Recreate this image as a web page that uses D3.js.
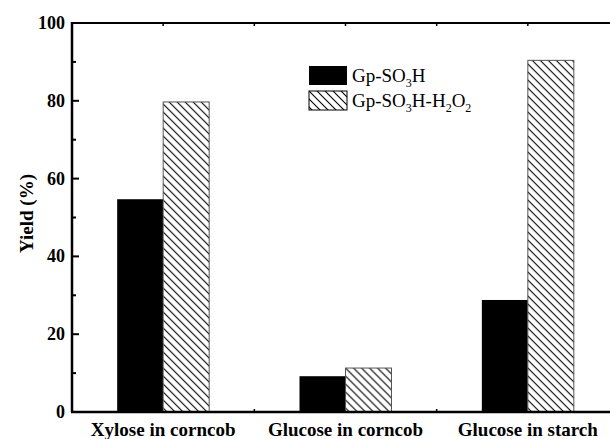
<!DOCTYPE html>
<html>
<head>
    <style>
        body { margin: 0; background: white; }
        text { font-family: "Liberation Serif", "Times New Roman", serif; }
    </style>
</head>
<body>
    <svg width="610" height="439"></svg>
    <script src="https://d3js.org/d3.v7.min.js"></script>
    <script>
        const categories = ["Xylose in corncob", "Glucose in corncob", "Glucose in starch"];
        const seriesNames = ["Gp-SO3H", "Gp-SO3H-H2O2"];
        const plain = [54.7, 9.2, 28.8];
        const peroxide = [79.7, 11.3, 90.4];
        const yTicks = [0, 20, 40, 60, 80, 100];

        const svg = d3.select("svg");
        const mLeft = 72, mRight = 619, mTop = 23, mBottom = 412;

        const defs = svg.append("defs");
        const pat = defs.append("pattern")
            .attr("id", "hatch")
            .attr("patternUnits", "userSpaceOnUse")
            .attr("width", 8).attr("height", 8);
        pat.append("rect").attr("width", 8).attr("height", 8).attr("fill", "white");
        pat.append("path")
            .attr("d", "M-2,-2 L10,10 M-2,6 L2,10 M6,-2 L10,2")
            .attr("stroke", "black").attr("stroke-width", 1.1);

        const x = d3.scaleBand().domain(categories).range([mLeft, mRight]);
        const xSub = d3.scaleBand().domain(seriesNames).range([-46, 46]);
        const y = d3.scaleLinear().domain([0, 100]).range([mBottom, mTop]);

        const rows = categories.map((c, i) => ({ cat: c, vals: [plain[i], peroxide[i]] }));

        const groups = svg.selectAll(".grp")
            .data(rows)
            .enter().append("g")
            .attr("transform", d => `translate(${x(d.cat) + x.bandwidth() / 2},0)`);

        groups.selectAll("rect")
            .data(d => d.vals.map((v, j) => ({ name: seriesNames[j], v })))
            .enter().append("rect")
            .attr("x", d => xSub(d.name))
            .attr("width", xSub.bandwidth())
            .attr("y", d => y(d.v))
            .attr("height", d => mBottom - y(d.v))
            .attr("fill", (d, j) => j === 0 ? "black" : "url(#hatch)")
            .attr("stroke", (d, j) => j === 0 ? "none" : "#555")
            .attr("stroke-width", 1);

        // y axis, ticks pointing inward
        const yg = svg.append("g").attr("transform", `translate(${mLeft},0)`);
        yg.selectAll(".yt")
            .data(d3.range(0, 101, 10))
            .enter().append("line")
            .attr("x1", 0).attr("x2", d => d % 20 === 0 ? 7 : 4)
            .attr("y1", d => y(d)).attr("y2", d => y(d))
            .attr("stroke", "black").attr("stroke-width", 2);
        yg.selectAll(".yl")
            .data(yTicks)
            .enter().append("text")
            .attr("x", -7).attr("y", d => y(d) + 6)
            .attr("text-anchor", "end")
            .attr("font-size", 18).attr("font-weight", "bold")
            .text(d => d);

        // top axis minor ticks
        const topTicks = [];
        categories.forEach((c, i) => {
            topTicks.push(x(c) + x.bandwidth() / 2);
            if (i < categories.length - 1) topTicks.push(x(c) + x.bandwidth());
        });
        svg.selectAll(".tt")
            .data(topTicks)
            .enter().append("line")
            .attr("x1", d => d).attr("x2", d => d)
            .attr("y1", mTop).attr("y2", mTop + 3)
            .attr("stroke", "black").attr("stroke-width", 1.5);
        // bottom axis ticks between categories
        svg.selectAll(".bt")
            .data(categories.slice(0, -1))
            .enter().append("line")
            .attr("x1", d => x(d) + x.bandwidth()).attr("x2", d => x(d) + x.bandwidth())
            .attr("y1", mBottom).attr("y2", mBottom - 3)
            .attr("stroke", "black").attr("stroke-width", 1.5);

        // frame
        svg.append("line").attr("x1", mLeft).attr("x2", mRight).attr("y1", mTop).attr("y2", mTop)
            .attr("stroke", "black").attr("stroke-width", 2);
        svg.append("line").attr("x1", mLeft - 1).attr("x2", mRight).attr("y1", mBottom).attr("y2", mBottom)
            .attr("stroke", "black").attr("stroke-width", 2.5);
        svg.append("line").attr("x1", mLeft).attr("x2", mLeft).attr("y1", mTop - 1).attr("y2", mBottom)
            .attr("stroke", "black").attr("stroke-width", 2.5);

        // category labels
        svg.selectAll(".cl")
            .data(categories)
            .enter().append("text")
            .attr("x", d => x(d) + x.bandwidth() / 2)
            .attr("y", 436)
            .attr("text-anchor", "middle")
            .attr("font-size", 19).attr("font-weight", "bold")
            .text(d => d);

        // y label
        svg.append("text")
            .attr("transform", `translate(33,${(mTop + mBottom) / 2 - 4}) rotate(-90)`)
            .attr("text-anchor", "middle")
            .attr("font-size", 19).attr("font-weight", "bold")
            .text("Yield (%)");

        // legend
        const leg = svg.append("g").attr("transform", "translate(309,66)");
        const legItems = [
            { fill: "black", parts: [["Gp-SO", 0], ["3", 1], ["H", 0]] },
            { fill: "url(#hatch)", parts: [["Gp-SO", 0], ["3", 1], ["H-H", 0], ["2", 1], ["O", 0], ["2", 1]] }
        ];
        legItems.forEach((item, i) => {
            const g = leg.append("g").attr("transform", `translate(0,${i * 25})`);
            g.append("rect").attr("width", 38).attr("height", 19)
                .attr("fill", item.fill)
                .attr("stroke", i === 0 ? "none" : "black").attr("stroke-width", 1);
            const t = g.append("text").attr("x", 43).attr("y", 16).attr("font-size", 19);
            item.parts.forEach((p, k) => {
                const prev = k > 0 ? item.parts[k - 1][1] : 0;
                const ts = t.append("tspan").text(p[0])
                    .attr("dy", p[1] && !prev ? 5 : (!p[1] && prev ? -5 : 0));
                if (p[1]) ts.attr("font-size", 12);
            });
        });
    </script>
</body>
</html>
